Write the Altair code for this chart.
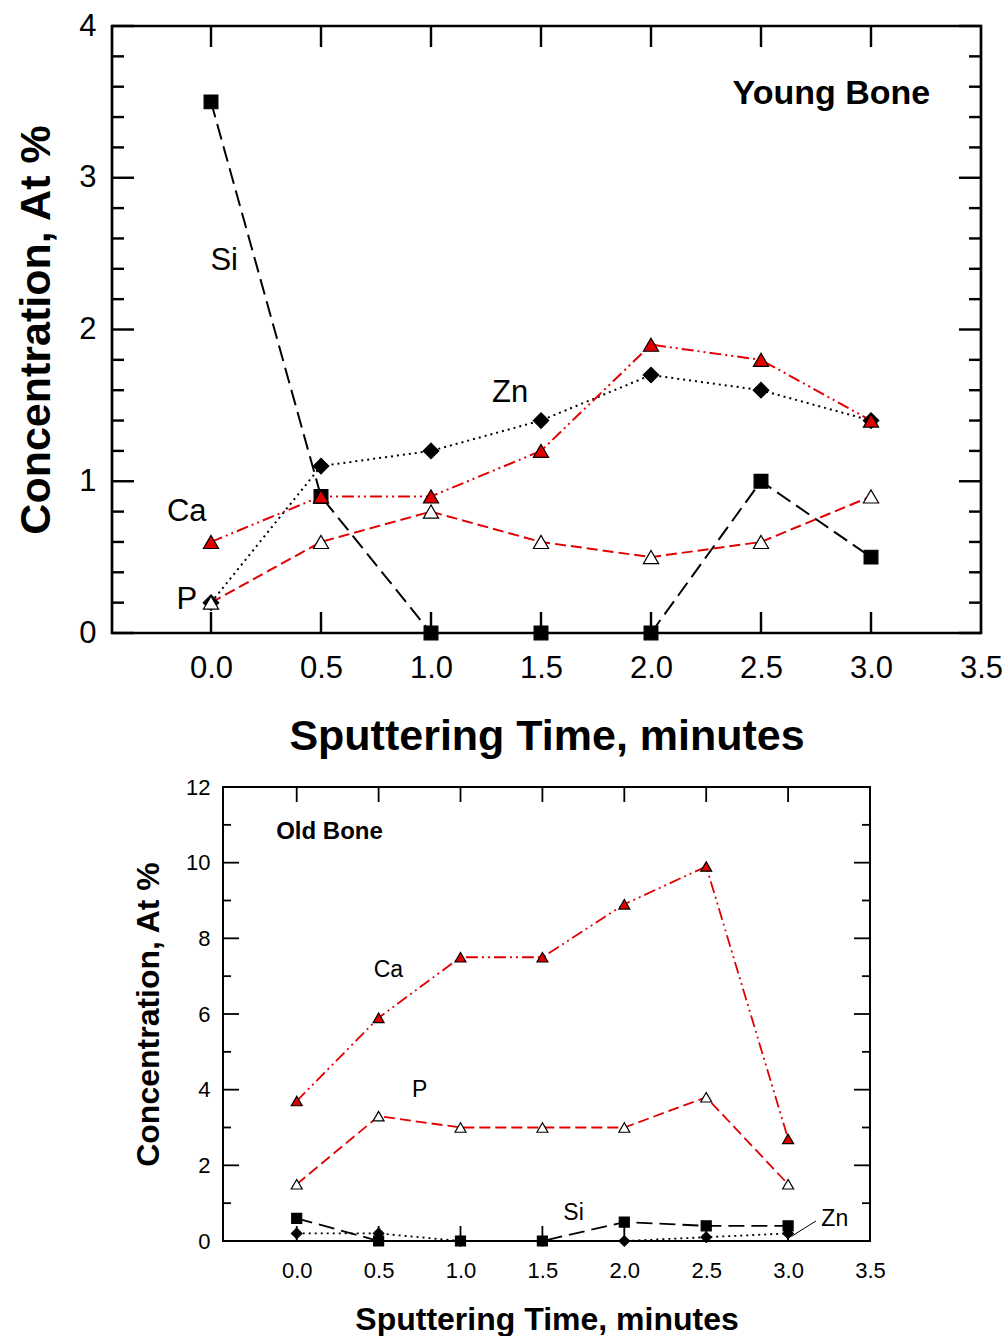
import altair as alt
import pandas as pd

FONT = "Liberation Sans"

# ---------------- data ----------------
times = [0.0, 0.5, 1.0, 1.5, 2.0, 2.5, 3.0]

young_si = [3.5, 0.9, 0.0, 0.0, 0.0, 1.0, 0.5]
young_zn = [0.2, 1.1, 1.2, 1.4, 1.7, 1.6, 1.4]
young_ca = [0.6, 0.9, 0.9, 1.2, 1.9, 1.8, 1.4]
young_p = [0.2, 0.6, 0.8, 0.6, 0.5, 0.6, 0.9]

old_si = [0.6, 0.0, 0.0, 0.0, 0.5, 0.4, 0.4]
old_zn = [0.2, 0.2, 0.0, 0.0, 0.0, 0.1, 0.2]
old_ca = [3.7, 5.9, 7.5, 7.5, 8.9, 9.9, 2.7]
old_p = [1.5, 3.3, 3.0, 3.0, 3.0, 3.8, 1.5]

x_tick_labels = [0.0, 0.5, 1.0, 1.5, 2.0, 2.5, 3.0, 3.5]
x_inner_ticks = [0.0, 0.5, 1.0, 1.5, 2.0, 2.5, 3.0]

young_y_labels = [0, 1, 2, 3, 4]
young_y_minor = [0.2, 0.4, 0.6, 0.8, 1.2, 1.4, 1.6, 1.8, 2.2, 2.4, 2.6, 2.8,
                 3.2, 3.4, 3.6, 3.8]
old_y_labels = [0, 2, 4, 6, 8, 10, 12]
old_y_minor = [1, 3, 5, 7, 9, 11]

young_notes = ["Si", "Zn", "Ca", "P"]
young_note_x = [0.06, 1.36, -0.11, -0.11]
young_note_y = [2.45, 1.58, 0.80, 0.22]

old_notes = ["Ca", "P", "Si", "Zn"]
old_note_x = [0.56, 0.75, 1.69, 3.285]
old_note_y = [7.16, 3.99, 0.74, 0.58]

zn_leader_t = [3.17, 3.02]
zn_leader_v = [0.53, 0.12]

# ---------------- helpers ----------------
STYLES = {
    "Si": dict(color="black", dash=[16, 7], shape="square", fill="black"),
    "Zn": dict(color="black", dash=[2, 4], shape="diamond", fill="black"),
    "P": dict(color="#e00000", dash=[11, 5], shape="triangle-up", fill="white"),
    "Ca": dict(color="#e00000", dash=[12, 4, 2, 4, 2, 4], shape="triangle-up", fill="#e00000"),
}


def build_panel(series, W, H, ymax, ylabels, yminor, notes, note_x, note_y,
                title_text, title_xy, fs, lw, msize, major_len, minor_len, xt_len,
                frame_w, leader=None):
    xs = alt.Scale(domain=[-0.45, 3.5], nice=False, zero=False)
    ys = alt.Scale(domain=[0, ymax], nice=False, zero=False)
    xaxis = alt.Axis(
        values=x_tick_labels, format=".1f", ticks=False, domain=False, grid=False,
        labelFlush=False, labelFontSize=fs["tick"], labelPadding=fs["xlp"],
        title="Sputtering Time, minutes", titleFontSize=fs["title"],
        titleFontWeight="bold", titlePadding=fs["xtp"], labelColor="black",
        titleColor="black", labelFont=FONT, titleFont=FONT)
    yaxis = alt.Axis(
        values=ylabels, format="d", ticks=False, domain=False, grid=False,
        labelFontSize=fs["tick"], labelPadding=fs["ylp"],
        title="Concentration, At %", titleFontSize=fs["title"],
        titleFontWeight="bold", titlePadding=fs["ytp"], labelColor="black",
        titleColor="black", labelFont=FONT, titleFont=FONT)

    def X(f="t"):
        return alt.X(f + ":Q", scale=xs, axis=xaxis)

    def Y(f="v"):
        return alt.Y(f + ":Q", scale=ys, axis=yaxis)

    layers = []

    # inward ticks
    ymaj = pd.DataFrame({"v": ylabels})
    ymin = pd.DataFrame({"v": yminor})
    xt = pd.DataFrame({"t": x_inner_ticks})
    tw = frame_w * 0.9
    for df, L in [(ymaj, major_len), (ymin, minor_len)]:
        layers.append(alt.Chart(df).mark_rule(color="black", strokeWidth=tw).encode(
            y=Y(), x=alt.value(0), x2=alt.value(L)))
        layers.append(alt.Chart(df).mark_rule(color="black", strokeWidth=tw).encode(
            y=Y(), x=alt.value(W), x2=alt.value(W - L)))
    layers.append(alt.Chart(xt).mark_rule(color="black", strokeWidth=tw).encode(
        x=X(), y=alt.value(0), y2=alt.value(xt_len)))
    layers.append(alt.Chart(xt).mark_rule(color="black", strokeWidth=tw).encode(
        x=X(), y=alt.value(H), y2=alt.value(H - xt_len)))

    if leader is not None:
        ldf = pd.DataFrame({"t": [leader[0][0]], "v": [leader[1][0]],
                            "t2": [leader[0][1]], "v2": [leader[1][1]]})
        layers.append(alt.Chart(ldf).mark_rule(color="black", strokeWidth=1).encode(
            x=X(), y=Y(), x2="t2:Q", y2="v2:Q"))

    for name in ["Si", "Zn", "P", "Ca"]:
        st = STYLES[name]
        df = pd.DataFrame({"t": times, "v": series[name]})
        layers.append(alt.Chart(df).mark_line(
            color=st["color"], strokeDash=st["dash"], strokeWidth=lw).encode(x=X(), y=Y()))
    for name in ["Si", "Zn", "P", "Ca"]:
        st = STYLES[name]
        df = pd.DataFrame({"t": times, "v": series[name]})
        layers.append(alt.Chart(df).mark_point(
            shape=st["shape"], filled=True, fill=st["fill"], stroke="black",
            strokeWidth=1.2, size=msize[name], opacity=1, fillOpacity=1).encode(x=X(), y=Y()))

    ndf = pd.DataFrame({"t": note_x, "v": note_y, "s": notes})
    layers.append(alt.Chart(ndf).mark_text(
        font=FONT, fontSize=fs["note"], color="black", align="center", baseline="middle").encode(
        x=X(), y=Y(), text="s:N"))

    tdf = pd.DataFrame({"t": [title_xy[0]], "v": [title_xy[1]], "s": [title_text]})
    layers.append(alt.Chart(tdf).mark_text(
        font=FONT, fontSize=fs["head"], fontWeight="bold", color="black",
        align="center", baseline="middle").encode(x=X(), y=Y(), text="s:N"))

    return alt.layer(*layers).properties(
        width=W, height=H,
        view=alt.ViewBackground(stroke="black", strokeWidth=frame_w, fill="white"))


top = build_panel(
    {"Si": young_si, "Zn": young_zn, "Ca": young_ca, "P": young_p},
    W=869, H=607, ymax=4, ylabels=young_y_labels, yminor=young_y_minor,
    notes=young_notes, note_x=young_note_x, note_y=young_note_y,
    title_text="Young Bone", title_xy=(2.82, 3.55),
    fs=dict(tick=31, title=43, note=31, head=34, xlp=20, xtp=32, ylp=16, ytp=20),
    lw=2, msize={"Si": 190, "Zn": 240, "P": 230, "Ca": 230},
    major_len=22, minor_len=12, xt_len=21, frame_w=2.7)

bottom = build_panel(
    {"Si": old_si, "Zn": old_zn, "Ca": old_ca, "P": old_p},
    W=647, H=454, ymax=12, ylabels=old_y_labels, yminor=old_y_minor,
    notes=old_notes, note_x=old_note_x, note_y=old_note_y,
    title_text="Old Bone", title_xy=(0.20, 10.81),
    fs=dict(tick=22, title=32, note=23, head=24, xlp=19, xtp=23, ylp=13, ytp=20),
    lw=1.8, msize={"Si": 100, "Zn": 110, "P": 120, "Ca": 120},
    major_len=16, minor_len=8, xt_len=15, frame_w=2,
    leader=(zn_leader_t, zn_leader_v))

spacer = alt.Chart(pd.DataFrame({"a": [0]})).mark_point(opacity=0).encode(
    x=alt.value(0), y=alt.value(0)).properties(
    width=18, height=10,
    view=alt.ViewBackground(stroke="transparent", fill="white"))

bottom_row = alt.hconcat(spacer, bottom, spacing=0)

chart = alt.vconcat(top, bottom_row, spacing=15).properties(
    padding={"left": 14, "top": 8, "right": 0, "bottom": 0},
    background="white",
)

chart.save("out.html", embed_options={"renderer": "svg", "actions": False})
